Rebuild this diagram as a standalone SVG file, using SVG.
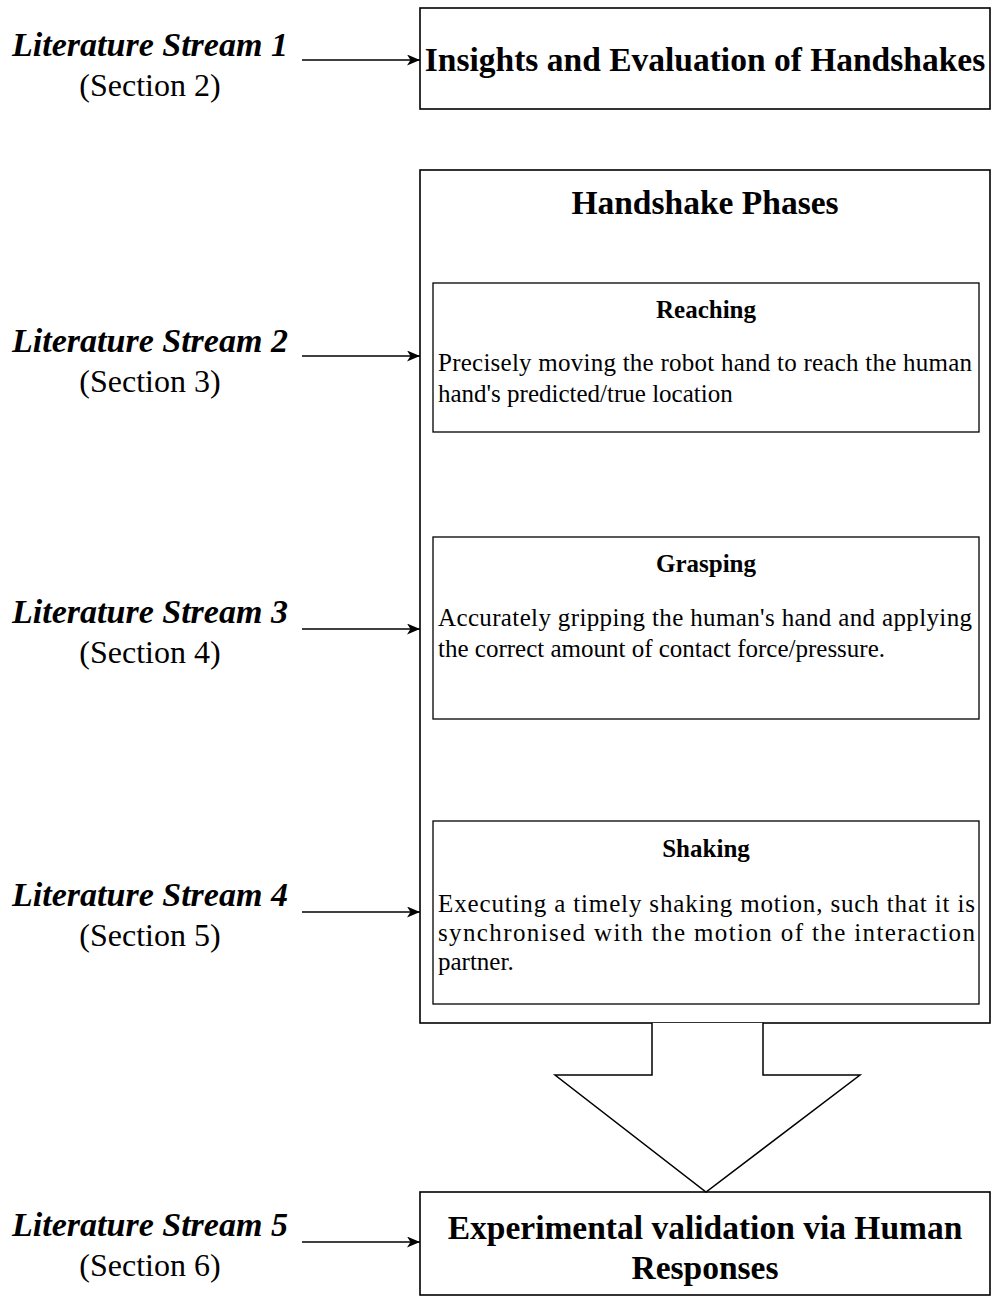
<svg xmlns="http://www.w3.org/2000/svg" width="996" height="1305" viewBox="0 0 996 1305">
  <defs>
    <marker id="arrow" viewBox="0 0 13 11" refX="13" refY="5.5" markerWidth="13" markerHeight="11" markerUnits="userSpaceOnUse" orient="auto">
      <path d="M0,0 L13,5.5 L0,11 L3.5,5.5 Z" fill="#000"/>
    </marker>
  </defs>
  <style>
    .box { fill: #fff; stroke: #000; stroke-width: 1.6; }
    .sub { fill: #fff; stroke: #000; stroke-width: 1.3; }
    .conn { stroke: #000; stroke-width: 1.6; fill: none; }
    text { font-family: "Liberation Serif", "Times New Roman", serif; fill: #000; }
    .stream { font-size: 34px; font-weight: bold; font-style: italic; text-anchor: middle; }
    .section { font-size: 32px; text-anchor: middle; }
    .big { font-size: 33.5px; font-weight: bold; text-anchor: middle; }
    .phase { font-size: 25px; font-weight: bold; text-anchor: middle; }
    .body { font-size: 25px; }
  </style>
  <rect width="996" height="1305" fill="#fff"/>

  <!-- literature stream labels -->
  <g id="stream1">
    <text class="stream" x="150" y="56">Literature Stream 1</text>
    <text class="section" x="150" y="96">(Section 2)</text>
  </g>
  <g id="stream2">
    <text class="stream" x="150" y="352">Literature Stream 2</text>
    <text class="section" x="150" y="392">(Section 3)</text>
  </g>
  <g id="stream3">
    <text class="stream" x="150" y="623">Literature Stream 3</text>
    <text class="section" x="150" y="663">(Section 4)</text>
  </g>
  <g id="stream4">
    <text class="stream" x="150" y="906">Literature Stream 4</text>
    <text class="section" x="150" y="946">(Section 5)</text>
  </g>
  <g id="stream5">
    <text class="stream" x="150" y="1236">Literature Stream 5</text>
    <text class="section" x="150" y="1276">(Section 6)</text>
  </g>

  <!-- insights box -->
  <g id="insights">
    <rect class="box" x="420" y="8" width="570" height="101"/>
    <text class="big" x="705" y="71">Insights and Evaluation of Handshakes</text>
  </g>

  <!-- handshake phases container -->
  <g id="phases">
    <rect class="box" x="420" y="170" width="570" height="853"/>
    <text class="big" x="705" y="214">Handshake Phases</text>
  </g>

  <g id="reaching">
    <rect class="sub" x="433" y="283" width="546" height="149"/>
    <text class="phase" x="706" y="318">Reaching</text>
    <text class="body" x="438" y="371" textLength="534" lengthAdjust="spacing">Precisely moving the robot hand to reach the human</text>
    <text class="body" x="438" y="402">hand's predicted/true location</text>
  </g>

  <g id="grasping">
    <rect class="sub" x="433" y="537" width="546" height="182"/>
    <text class="phase" x="706" y="572">Grasping</text>
    <text class="body" x="438" y="626" textLength="534" lengthAdjust="spacing">Accurately gripping the human's hand and applying</text>
    <text class="body" x="438" y="657">the correct amount of contact force/pressure.</text>
  </g>

  <g id="shaking">
    <rect class="sub" x="433" y="821" width="546" height="183"/>
    <text class="phase" x="706" y="857">Shaking</text>
    <text class="body" x="438" y="912" textLength="537" lengthAdjust="spacing">Executing a timely shaking motion, such that it is</text>
    <text class="body" x="438" y="941" textLength="537" lengthAdjust="spacing">synchronised with the motion of the interaction</text>
    <text class="body" x="438" y="970">partner.</text>
  </g>

  <!-- experimental validation box -->
  <g id="validation">
    <rect class="box" x="420" y="1192" width="570" height="103"/>
    <text class="big" x="705" y="1239">Experimental validation via Human</text>
    <text class="big" x="705" y="1279">Responses</text>
  </g>

  <!-- connectors -->
  <g id="connectors">
    <line class="conn" x1="302" y1="60" x2="420" y2="60" marker-end="url(#arrow)"/>
    <line class="conn" x1="302" y1="356" x2="420" y2="356" marker-end="url(#arrow)"/>
    <line class="conn" x1="302" y1="629" x2="420" y2="629" marker-end="url(#arrow)"/>
    <line class="conn" x1="302" y1="912" x2="420" y2="912" marker-end="url(#arrow)"/>
    <line class="conn" x1="302" y1="1242" x2="420" y2="1242" marker-end="url(#arrow)"/>
    <path id="bigArrow" d="M652,1023 L652,1075 L555,1075 L706,1192 L860,1075 L763,1075 L763,1023" fill="#fff" stroke="#000" stroke-width="1.5" stroke-linejoin="miter"/>
  </g>
</svg>
